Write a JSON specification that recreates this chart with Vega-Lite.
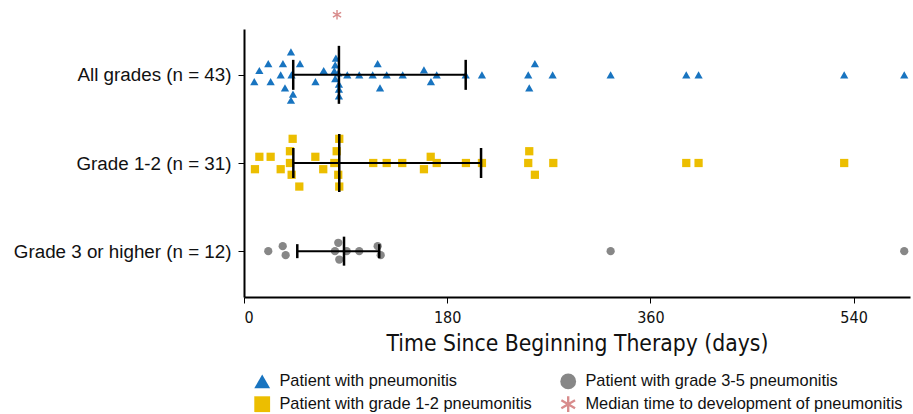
{
  "$schema": "https://vega.github.io/schema/vega-lite/v6.json",
  "autosize": {"type": "none"},
  "width": 666,
  "height": 268,
  "padding": {"left": 244, "top": 29, "right": 3, "bottom": 117},
  "background": "white",
  "config": {"view": {"stroke": null}},
  "datasets": {
    "pts": [
      {"g": "All grades (n = 43)", "t": "Patient with pneumonitis", "d": 9.1, "j": 1.1},
      {"g": "All grades (n = 43)", "t": "Patient with pneumonitis", "d": 13.6, "j": -0.7},
      {"g": "All grades (n = 43)", "t": "Patient with pneumonitis", "d": 21.5, "j": -1.8},
      {"g": "All grades (n = 43)", "t": "Patient with pneumonitis", "d": 23.6, "j": 1.1},
      {"g": "All grades (n = 43)", "t": "Patient with pneumonitis", "d": 32.5, "j": 0},
      {"g": "All grades (n = 43)", "t": "Patient with pneumonitis", "d": 34.5, "j": -1.8},
      {"g": "All grades (n = 43)", "t": "Patient with pneumonitis", "d": 36.3, "j": 2.1},
      {"g": "All grades (n = 43)", "t": "Patient with pneumonitis", "d": 41.6, "j": -3.7},
      {"g": "All grades (n = 43)", "t": "Patient with pneumonitis", "d": 42.1, "j": 0},
      {"g": "All grades (n = 43)", "t": "Patient with pneumonitis", "d": 43.4, "j": 3.1},
      {"g": "All grades (n = 43)", "t": "Patient with pneumonitis", "d": 41.6, "j": 4.1},
      {"g": "All grades (n = 43)", "t": "Patient with pneumonitis", "d": 49.6, "j": -1.8},
      {"g": "All grades (n = 43)", "t": "Patient with pneumonitis", "d": 63.3, "j": 1.1},
      {"g": "All grades (n = 43)", "t": "Patient with pneumonitis", "d": 70.6, "j": -0.7},
      {"g": "All grades (n = 43)", "t": "Patient with pneumonitis", "d": 81.4, "j": -2.7},
      {"g": "All grades (n = 43)", "t": "Patient with pneumonitis", "d": 80.8, "j": -1.6},
      {"g": "All grades (n = 43)", "t": "Patient with pneumonitis", "d": 80.0, "j": -0.65},
      {"g": "All grades (n = 43)", "t": "Patient with pneumonitis", "d": 83.5, "j": -0.3},
      {"g": "All grades (n = 43)", "t": "Patient with pneumonitis", "d": 80.8, "j": 0.6},
      {"g": "All grades (n = 43)", "t": "Patient with pneumonitis", "d": 84.1, "j": 1.5},
      {"g": "All grades (n = 43)", "t": "Patient with pneumonitis", "d": 84.1, "j": 2.3},
      {"g": "All grades (n = 43)", "t": "Patient with pneumonitis", "d": 84.1, "j": 3.4},
      {"g": "All grades (n = 43)", "t": "Patient with pneumonitis", "d": 91.5, "j": 0},
      {"g": "All grades (n = 43)", "t": "Patient with pneumonitis", "d": 102.1, "j": 0},
      {"g": "All grades (n = 43)", "t": "Patient with pneumonitis", "d": 114.0, "j": 0},
      {"g": "All grades (n = 43)", "t": "Patient with pneumonitis", "d": 118.4, "j": -1.8},
      {"g": "All grades (n = 43)", "t": "Patient with pneumonitis", "d": 120.5, "j": 2.1},
      {"g": "All grades (n = 43)", "t": "Patient with pneumonitis", "d": 126.4, "j": 0},
      {"g": "All grades (n = 43)", "t": "Patient with pneumonitis", "d": 140.6, "j": 0},
      {"g": "All grades (n = 43)", "t": "Patient with pneumonitis", "d": 159.4, "j": -0.8},
      {"g": "All grades (n = 43)", "t": "Patient with pneumonitis", "d": 165.6, "j": 1.1},
      {"g": "All grades (n = 43)", "t": "Patient with pneumonitis", "d": 170.7, "j": 0},
      {"g": "All grades (n = 43)", "t": "Patient with pneumonitis", "d": 196.4, "j": 0},
      {"g": "All grades (n = 43)", "t": "Patient with pneumonitis", "d": 210.8, "j": 0},
      {"g": "All grades (n = 43)", "t": "Patient with pneumonitis", "d": 251.8, "j": 0},
      {"g": "All grades (n = 43)", "t": "Patient with pneumonitis", "d": 257.7, "j": -1.8},
      {"g": "All grades (n = 43)", "t": "Patient with pneumonitis", "d": 252.7, "j": 2.1},
      {"g": "All grades (n = 43)", "t": "Patient with pneumonitis", "d": 273.4, "j": 0},
      {"g": "All grades (n = 43)", "t": "Patient with pneumonitis", "d": 324.8, "j": 0},
      {"g": "All grades (n = 43)", "t": "Patient with pneumonitis", "d": 391.8, "j": 0},
      {"g": "All grades (n = 43)", "t": "Patient with pneumonitis", "d": 402.7, "j": 0},
      {"g": "All grades (n = 43)", "t": "Patient with pneumonitis", "d": 531.7, "j": 0},
      {"g": "All grades (n = 43)", "t": "Patient with pneumonitis", "d": 584.9, "j": 0},

      {"g": "Grade 1-2 (n = 31)", "t": "Patient with grade 1-2 pneumonitis", "d": 43.1, "j": -3.9},
      {"g": "Grade 1-2 (n = 31)", "t": "Patient with grade 1-2 pneumonitis", "d": 84.4, "j": -3.9},
      {"g": "Grade 1-2 (n = 31)", "t": "Patient with grade 1-2 pneumonitis", "d": 13.6, "j": -1},
      {"g": "Grade 1-2 (n = 31)", "t": "Patient with grade 1-2 pneumonitis", "d": 23.6, "j": -1},
      {"g": "Grade 1-2 (n = 31)", "t": "Patient with grade 1-2 pneumonitis", "d": 40.7, "j": -1.9},
      {"g": "Grade 1-2 (n = 31)", "t": "Patient with grade 1-2 pneumonitis", "d": 82.1, "j": -1.9},
      {"g": "Grade 1-2 (n = 31)", "t": "Patient with grade 1-2 pneumonitis", "d": 9.7, "j": 1},
      {"g": "Grade 1-2 (n = 31)", "t": "Patient with grade 1-2 pneumonitis", "d": 32.5, "j": 1},
      {"g": "Grade 1-2 (n = 31)", "t": "Patient with grade 1-2 pneumonitis", "d": 40.7, "j": 0},
      {"g": "Grade 1-2 (n = 31)", "t": "Patient with grade 1-2 pneumonitis", "d": 63.2, "j": -1},
      {"g": "Grade 1-2 (n = 31)", "t": "Patient with grade 1-2 pneumonitis", "d": 70.2, "j": 1},
      {"g": "Grade 1-2 (n = 31)", "t": "Patient with grade 1-2 pneumonitis", "d": 80.0, "j": 0},
      {"g": "Grade 1-2 (n = 31)", "t": "Patient with grade 1-2 pneumonitis", "d": 42.2, "j": 1.9},
      {"g": "Grade 1-2 (n = 31)", "t": "Patient with grade 1-2 pneumonitis", "d": 83.5, "j": 1.9},
      {"g": "Grade 1-2 (n = 31)", "t": "Patient with grade 1-2 pneumonitis", "d": 49.0, "j": 3.8},
      {"g": "Grade 1-2 (n = 31)", "t": "Patient with grade 1-2 pneumonitis", "d": 84.4, "j": 3.8},
      {"g": "Grade 1-2 (n = 31)", "t": "Patient with grade 1-2 pneumonitis", "d": 114.5, "j": 0},
      {"g": "Grade 1-2 (n = 31)", "t": "Patient with grade 1-2 pneumonitis", "d": 126.4, "j": 0},
      {"g": "Grade 1-2 (n = 31)", "t": "Patient with grade 1-2 pneumonitis", "d": 140.2, "j": 0},
      {"g": "Grade 1-2 (n = 31)", "t": "Patient with grade 1-2 pneumonitis", "d": 165.4, "j": -1},
      {"g": "Grade 1-2 (n = 31)", "t": "Patient with grade 1-2 pneumonitis", "d": 159.4, "j": 1},
      {"g": "Grade 1-2 (n = 31)", "t": "Patient with grade 1-2 pneumonitis", "d": 170.7, "j": 0},
      {"g": "Grade 1-2 (n = 31)", "t": "Patient with grade 1-2 pneumonitis", "d": 196.6, "j": 0},
      {"g": "Grade 1-2 (n = 31)", "t": "Patient with grade 1-2 pneumonitis", "d": 210.8, "j": 0},
      {"g": "Grade 1-2 (n = 31)", "t": "Patient with grade 1-2 pneumonitis", "d": 252.7, "j": -1.9},
      {"g": "Grade 1-2 (n = 31)", "t": "Patient with grade 1-2 pneumonitis", "d": 251.8, "j": 0},
      {"g": "Grade 1-2 (n = 31)", "t": "Patient with grade 1-2 pneumonitis", "d": 257.7, "j": 1.9},
      {"g": "Grade 1-2 (n = 31)", "t": "Patient with grade 1-2 pneumonitis", "d": 274.0, "j": 0},
      {"g": "Grade 1-2 (n = 31)", "t": "Patient with grade 1-2 pneumonitis", "d": 391.8, "j": 0},
      {"g": "Grade 1-2 (n = 31)", "t": "Patient with grade 1-2 pneumonitis", "d": 402.7, "j": 0},
      {"g": "Grade 1-2 (n = 31)", "t": "Patient with grade 1-2 pneumonitis", "d": 531.7, "j": 0},

      {"g": "Grade 3 or higher (n = 12)", "t": "Patient with grade 3-5 pneumonitis", "d": 21.5, "j": 0},
      {"g": "Grade 3 or higher (n = 12)", "t": "Patient with grade 3-5 pneumonitis", "d": 34.3, "j": -0.8},
      {"g": "Grade 3 or higher (n = 12)", "t": "Patient with grade 3-5 pneumonitis", "d": 36.9, "j": 0.65},
      {"g": "Grade 3 or higher (n = 12)", "t": "Patient with grade 3-5 pneumonitis", "d": 83.5, "j": -1.35},
      {"g": "Grade 3 or higher (n = 12)", "t": "Patient with grade 3-5 pneumonitis", "d": 80.6, "j": 0},
      {"g": "Grade 3 or higher (n = 12)", "t": "Patient with grade 3-5 pneumonitis", "d": 84.4, "j": 1.35},
      {"g": "Grade 3 or higher (n = 12)", "t": "Patient with grade 3-5 pneumonitis", "d": 91.0, "j": 0},
      {"g": "Grade 3 or higher (n = 12)", "t": "Patient with grade 3-5 pneumonitis", "d": 102.1, "j": 0},
      {"g": "Grade 3 or higher (n = 12)", "t": "Patient with grade 3-5 pneumonitis", "d": 118.4, "j": -0.8},
      {"g": "Grade 3 or higher (n = 12)", "t": "Patient with grade 3-5 pneumonitis", "d": 121.1, "j": 0.65},
      {"g": "Grade 3 or higher (n = 12)", "t": "Patient with grade 3-5 pneumonitis", "d": 324.8, "j": 0},
      {"g": "Grade 3 or higher (n = 12)", "t": "Patient with grade 3-5 pneumonitis", "d": 584.9, "j": 0}
    ],
    "wh": [
      {"g": "All grades (n = 43)", "lo": 43.6, "med": 84.1, "hi": 196.4},
      {"g": "Grade 1-2 (n = 31)", "lo": 43.7, "med": 84.4, "hi": 210.0},
      {"g": "Grade 3 or higher (n = 12)", "lo": 47.2, "med": 88.6, "hi": 119.8}
    ],
    "star": [
      {"g": "All grades (n = 43)", "t": "Median time to development of pneumonitis", "d": 82.4}
    ]
  },
  "encoding": {
    "y": {
      "field": "g", "type": "nominal",
      "sort": ["All grades (n = 43)", "Grade 1-2 (n = 31)", "Grade 3 or higher (n = 12)"],
      "scale": {"type": "point", "padding": 0.52},
      "axis": {
        "title": null, "domainColor": "#000", "domainWidth": 2, "tickColor": "#000", "tickSize": 6, "tickWidth": 1,
        "labelFont": "Liberation Sans", "labelFontSize": 18.8, "labelColor": "#111", "labelPadding": 7, "labelLimit": 0
      }
    }
  },
  "layer": [
    {
      "data": {"name": "pts"},
      "mark": {"type": "point", "filled": true, "opacity": 1, "size": 68},
      "encoding": {
        "x": {
          "field": "d", "type": "quantitative",
          "scale": {"domain": [0, 590], "nice": false, "zero": false},
          "axis": {
            "values": [0, 180, 360, 540], "grid": false, "title": "Time Since Beginning Therapy (days)",
            "domainColor": "#000", "domainWidth": 2, "tickColor": "#000", "tickSize": 6, "tickWidth": 1,
            "labelFont": "DejaVu Sans Condensed, Liberation Sans Narrow, Liberation Sans", "labelFontSize": 16, "labelColor": "#111", "labelPadding": 6,
            "titleFont": "DejaVu Sans Condensed, Liberation Sans Narrow, Liberation Sans", "titleFontSize": 22.7, "titleFontWeight": "normal", "titleColor": "#111", "titlePadding": 7
          }
        },
        "yOffset": {"field": "j", "type": "quantitative", "scale": {"domain": [-4, 4], "range": [-24.8, 24.8]}},
        "color": {
          "field": "t", "type": "nominal",
          "scale": {
            "domain": ["Patient with pneumonitis", "Patient with grade 1-2 pneumonitis", "Patient with grade 3-5 pneumonitis", "Median time to development of pneumonitis"],
            "range": ["#1874c0", "#ecbe00", "#878787", "#d88c8c"]
          },
          "legend": {
            "orient": "none", "legendX": 10, "legendY": 344, "columns": 2, "title": null, "padding": 0,
            "symbolSize": 250, "labelFontSize": 16.4, "labelFont": "Liberation Sans", "labelColor": "#111", "labelLimit": 0,
            "columnPadding": 28, "rowPadding": 6, "labelOffset": 9, "symbolStrokeWidth": 0,
            "encode": {"symbols": {"update": {"size": {"signal": "datum.value === 'Median time to development of pneumonitis' ? 60 : 250"}}}}
          }
        },
        "shape": {
          "field": "t", "type": "nominal",
          "scale": {
            "domain": ["Patient with pneumonitis", "Patient with grade 1-2 pneumonitis", "Patient with grade 3-5 pneumonitis", "Median time to development of pneumonitis"],
            "range": ["triangle-up", "square", "circle", "M-0.15,-1L0.15,-1L0.15,1L-0.15,1ZM-0.941,-0.37L-0.791,-0.63L0.941,0.37L0.791,0.63ZM-0.791,0.63L-0.941,0.37L0.791,-0.63L0.941,-0.37Z"]
          },
          "legend": {
            "orient": "none", "legendX": 10, "legendY": 344, "columns": 2, "title": null, "padding": 0,
            "symbolSize": 250, "labelFontSize": 16.4, "labelFont": "Liberation Sans", "labelColor": "#111", "labelLimit": 0,
            "columnPadding": 28, "rowPadding": 6, "labelOffset": 9, "symbolStrokeWidth": 0,
            "encode": {"symbols": {"update": {"size": {"signal": "datum.value === 'Median time to development of pneumonitis' ? 60 : 250"}}}}
          }
        }
      }
    },
    {
      "data": {"name": "star"},
      "mark": {"type": "point", "filled": true, "opacity": 1, "size": 90, "yOffset": -60},
      "encoding": {
        "x": {"field": "d", "type": "quantitative"},
        "color": {"field": "t", "type": "nominal"},
        "shape": {"field": "t", "type": "nominal"}
      }
    },
    {
      "data": {"name": "wh"},
      "mark": {"type": "rule", "color": "#000", "strokeWidth": 2},
      "encoding": {
        "x": {"field": "lo", "type": "quantitative"},
        "x2": {"field": "hi"}
      }
    },
    {
      "data": {"name": "wh"},
      "transform": [{"filter": "datum.g !== 'Grade 3 or higher (n = 12)'"}],
      "mark": {"type": "tick", "color": "#000", "thickness": 2.5, "size": 58, "opacity": 1},
      "encoding": {"x": {"field": "med", "type": "quantitative"}}
    },
    {
      "data": {"name": "wh"},
      "transform": [{"filter": "datum.g === 'Grade 3 or higher (n = 12)'"}],
      "mark": {"type": "tick", "color": "#000", "thickness": 2.5, "size": 29, "opacity": 1},
      "encoding": {"x": {"field": "med", "type": "quantitative"}}
    },
    {
      "data": {"name": "wh"},
      "transform": [{"filter": "datum.g !== 'Grade 3 or higher (n = 12)'"}, {"fold": ["lo", "hi"], "as": ["k", "v"]}],
      "mark": {"type": "tick", "color": "#000", "thickness": 2.5, "size": 30, "opacity": 1},
      "encoding": {"x": {"field": "v", "type": "quantitative"}}
    },
    {
      "data": {"name": "wh"},
      "transform": [{"filter": "datum.g === 'Grade 3 or higher (n = 12)'"}, {"fold": ["lo", "hi"], "as": ["k", "v"]}],
      "mark": {"type": "tick", "color": "#000", "thickness": 2.5, "size": 14, "opacity": 1},
      "encoding": {"x": {"field": "v", "type": "quantitative"}}
    }
  ]
}
